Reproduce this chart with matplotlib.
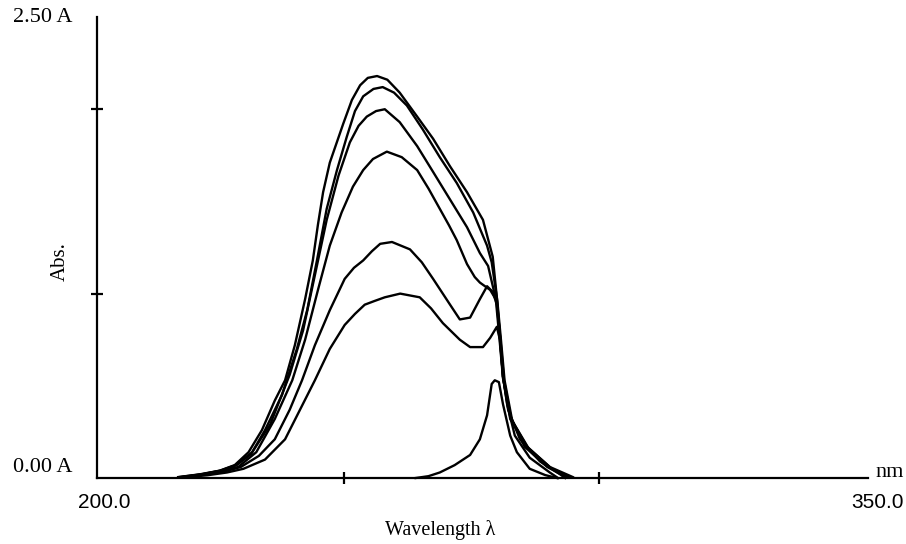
import matplotlib
matplotlib.use("Agg")
import matplotlib.pyplot as plt

# UV spectra, wavelength in nm, absorbance in A
wl1 = [215.8, 220.0, 223.9, 226.8, 229.5, 232.1, 234.6, 236.6, 238.5, 240.5, 242.0, 243.0, 244.0, 245.3, 247.9,
       249.6, 251.2, 252.7, 254.5, 256.5, 258.9, 262.3, 265.4, 268.7, 272.0, 275.1, 277.0, 277.8, 278.4, 279.0,
       280.4, 283.7, 288.1, 292.6]
abs1 = [0.005, 0.02, 0.04, 0.07, 0.14, 0.26, 0.42, 0.53, 0.72, 0.97, 1.18, 1.375, 1.55, 1.71, 1.92,
        2.05, 2.13, 2.17, 2.18, 2.16, 2.09, 1.96, 1.84, 1.69, 1.55, 1.40, 1.20, 0.98, 0.77, 0.55,
        0.32, 0.17, 0.06, 0.005]

wl2 = [216.5, 220.5, 224.2, 227.2, 230.0, 232.7, 236.0, 238.9, 240.9, 242.8, 244.7, 246.7, 248.6, 250.2, 251.8,
       253.8, 255.6, 257.8, 260.3, 263.4, 266.7, 270.0, 273.2, 275.9, 276.8, 277.9, 278.6, 279.3, 280.8, 284.0,
       288.5, 292.0]
abs2 = [0.005, 0.02, 0.04, 0.07, 0.13, 0.26, 0.45, 0.70, 0.91, 1.18, 1.46, 1.67, 1.85, 1.99, 2.07,
        2.11, 2.12, 2.09, 2.02, 1.89, 1.74, 1.60, 1.44, 1.26, 1.17, 0.96, 0.75, 0.53, 0.31, 0.16,
        0.05, 0.005]

wl3 = [216.0, 220.3, 224.0, 227.0, 230.2, 233.7, 237.5, 240.1, 242.4, 244.7, 247.0, 249.2, 250.9, 252.5, 254.3,
       256.0, 258.9, 262.3, 265.4, 268.7, 272.0, 274.5, 276.1, 277.6, 278.3, 279.0, 280.6, 283.8, 288.2, 291.8]
abs3 = [0.005, 0.02, 0.04, 0.07, 0.14, 0.29, 0.56, 0.80, 1.10, 1.40, 1.64, 1.82, 1.91, 1.96, 1.99,
        2.00, 1.93, 1.80, 1.66, 1.51, 1.36, 1.22, 1.15, 0.97, 0.76, 0.54, 0.32, 0.16, 0.055, 0.005]

wl4 = [216.8, 221.0, 224.5, 227.5, 231.0, 234.6, 238.0, 240.5, 243.0, 245.3, 247.6, 249.8, 251.8, 253.7, 256.4,
       259.3, 262.3, 264.5, 266.7, 268.5, 270.0, 272.0, 273.5, 274.5, 276.5, 277.8, 278.5, 279.2, 280.5, 283.2,
       287.6, 291.3]
abs4 = [0.005, 0.02, 0.04, 0.06, 0.14, 0.32, 0.53, 0.75, 1.02, 1.26, 1.44, 1.58, 1.67, 1.73, 1.77,
        1.74, 1.67, 1.57, 1.46, 1.37, 1.29, 1.16, 1.09, 1.06, 1.02, 0.96, 0.75, 0.53, 0.33, 0.17,
        0.06, 0.005]

wl5 = [217.0, 221.0, 224.8, 228.0, 231.5, 234.6, 237.5, 239.9, 242.4, 245.3, 248.2, 250.0, 251.8, 253.5, 255.1,
       257.4, 260.9, 263.2, 265.4, 268.7, 270.6, 272.6, 274.5, 275.9, 277.0, 277.8, 278.4, 279.0, 280.0, 282.3,
       286.2, 290.1, 291.1]
abs5 = [0.005, 0.02, 0.035, 0.06, 0.12, 0.21, 0.37, 0.53, 0.72, 0.91, 1.08, 1.14, 1.18, 1.23, 1.27,
        1.28, 1.24, 1.17, 1.08, 0.94, 0.86, 0.87, 0.97, 1.04, 1.01, 0.94, 0.77, 0.55, 0.37, 0.21,
        0.09, 0.02, 0.0]

wl6 = [217.5, 221.5, 225.3, 228.5, 232.7, 236.6, 239.5, 242.4, 245.3, 248.2, 250.2, 252.1, 254.0, 256.0, 259.0,
       262.8, 265.0, 267.3, 270.6, 272.6, 275.1, 276.5, 277.8, 278.4, 279.0, 279.8, 281.3, 284.2, 288.1, 289.7]
abs6 = [0.005, 0.015, 0.03, 0.05, 0.10, 0.21, 0.37, 0.53, 0.70, 0.83, 0.89, 0.94, 0.96, 0.98, 1.00,
        0.98, 0.92, 0.84, 0.75, 0.71, 0.71, 0.76, 0.82, 0.75, 0.55, 0.40, 0.23, 0.11, 0.03, 0.0]

# narrow band
wl7 = [262.0, 264.5, 266.7, 269.6, 272.6, 274.5, 275.9, 276.8, 277.4, 278.2, 279.0, 280.4, 281.7, 284.2, 287.2,
       289.5]
abs7 = [0.0, 0.01, 0.03, 0.07, 0.125, 0.21, 0.34, 0.51, 0.53, 0.52, 0.40, 0.23, 0.14, 0.05, 0.016, 0.0]

spectra = [(wl1, abs1), (wl2, abs2), (wl3, abs3), (wl4, abs4), (wl5, abs5), (wl6, abs6), (wl7, abs7)]

x_ticks = [248.0, 297.7]  # tick marks sit a bit left of 250/300 in the original
y_ticks = [1.0, 2.0]

serif = "Liberation Serif"
sans = "Liberation Sans"

fig = plt.figure(figsize=(9.06, 5.44), dpi=100)
ax = fig.add_axes([0.107, 0.1213, 0.851, 0.8474])

for wl, a in spectra:
    ax.plot(wl, a, color="black", linewidth=1.7, clip_on=False, solid_joinstyle="round")

ax.set_xlim(200, 350)
ax.set_ylim(0, 2.5)

for side in ["top", "right"]:
    ax.spines[side].set_visible(False)
for side in ["left", "bottom"]:
    ax.spines[side].set_linewidth(1.6)

ax.set_xticks(x_ticks)
ax.set_yticks(y_ticks)
ax.tick_params(direction="inout", length=8, width=1.6, labelbottom=False, labelleft=False)

# corner labels drawn like the instrument printout
fig.text(13 / 906, 1 - 17 / 544, "2.50 A", family=serif, fontsize=16, va="center", ha="left")
fig.text(13 / 906, 1 - 468 / 544, "0.00 A", family=serif, fontsize=16, va="center", ha="left")
fig.text(78 / 906, 1 - 502 / 544, "200.0", family=sans, fontsize=15, va="center", ha="left")
fig.text(904 / 906, 1 - 502 / 544, "350.0", family=sans, fontsize=15, va="center", ha="right")
fig.text(904 / 906, 1 - 477 / 544, "nm", family=serif, fontsize=16, va="baseline", ha="right")
fig.text(60 / 906, 1 - 262 / 544, "Abs.", family=serif, fontsize=15, rotation=90, va="center", ha="center")
fig.text(440 / 906, 1 - 530 / 544, "Wavelength λ", family=serif, fontsize=14.5, va="center", ha="center")

fig.savefig("out.png", dpi=100)
